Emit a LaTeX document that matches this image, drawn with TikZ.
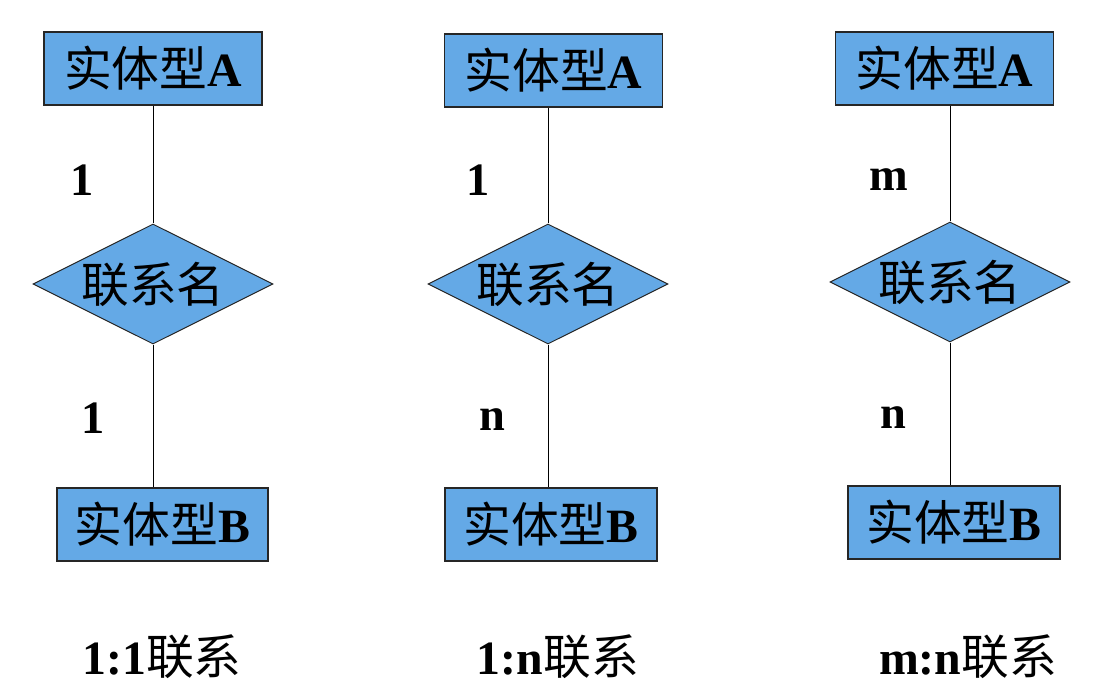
\documentclass[tikz,border=0pt]{standalone}
\usepackage{fontspec}
\setmainfont{Liberation Serif}
\newfontfamily\cjk{Noto Sans CJK SC}
\usetikzlibrary{shapes.geometric}
\definecolor{erblue}{HTML}{64A9E6}

\begin{document}
\begin{tikzpicture}[x=0.025cm, y=-0.025cm,
  entity/.style={draw=black!85, fill=erblue, line width=0.9pt,
    minimum width=5.45cm, minimum height=1.82cm, inner sep=0pt,
    font=\fontsize{34}{38}\selectfont},
  relation/.style={diamond, draw=black!85, fill=erblue, line width=0.7pt,
    minimum width=6cm, minimum height=3cm, inner sep=0pt, aspect=2,
    font=\cjk\fontsize{34}{38}\selectfont},
  card/.style={font=\bfseries\fontsize{33}{36}\selectfont, inner sep=0pt},
  caption/.style={font=\fontsize{34}{38}\selectfont, inner sep=0pt},
  link/.style={line width=0.6pt}]
\useasboundingbox (0,0) rectangle (1116,688);

% 1:1
\node[entity] (a1) at (153,68.5) {{\cjk 实体型}\textbf{A}};
\node[relation] (r1) at (153,284) {联系名};
\node[entity, minimum width=5.28cm] (b1) at (162.5,524.5) {{\cjk 实体型}\textbf{B}};
\draw[link] (a1) -- (r1);
\draw[link] (r1.south) -- (r1.south |- b1.north);
\node[card] (c1a) at (82,180) {1};
\node[card] (c1b) at (93,418) {1};
\node[caption] (t1) at (162,657) {\textbf{1:1}{\cjk 联系}};

% 1:n
\node[entity] (a2) at (553.5,70.5) {{\cjk 实体型}\textbf{A}};
\node[relation] (r2) at (548,284) {联系名};
\node[entity, minimum width=5.3cm] (b2) at (551,524.5) {{\cjk 实体型}\textbf{B}};
\draw[link] (r2.north) -- (r2.north |- a2.south);
\draw[link] (r2.south) -- (r2.south |- b2.north);
\node[card] (c2a) at (478,180) {1};
\node[card] (c2b) at (492,420) {n};
\node[caption] (t2) at (558,657) {\textbf{1:n}{\cjk 联系}};

% m:n
\node[entity] (a3) at (944.5,68.5) {{\cjk 实体型}\textbf{A}};
\node[relation] (r3) at (950,282) {联系名};
\node[entity, minimum width=5.3cm] (b3) at (954,522.5) {{\cjk 实体型}\textbf{B}};
\draw[link] (r3.north) -- (r3.north |- a3.south);
\draw[link] (r3.south) -- (r3.south |- b3.north);
\node[card] (c3a) at (889,180) {m};
\node[card] (c3b) at (893,418) {n};
\node[caption] (t3) at (968,657) {\textbf{m:n}{\cjk 联系}};
\end{tikzpicture}
\end{document}
